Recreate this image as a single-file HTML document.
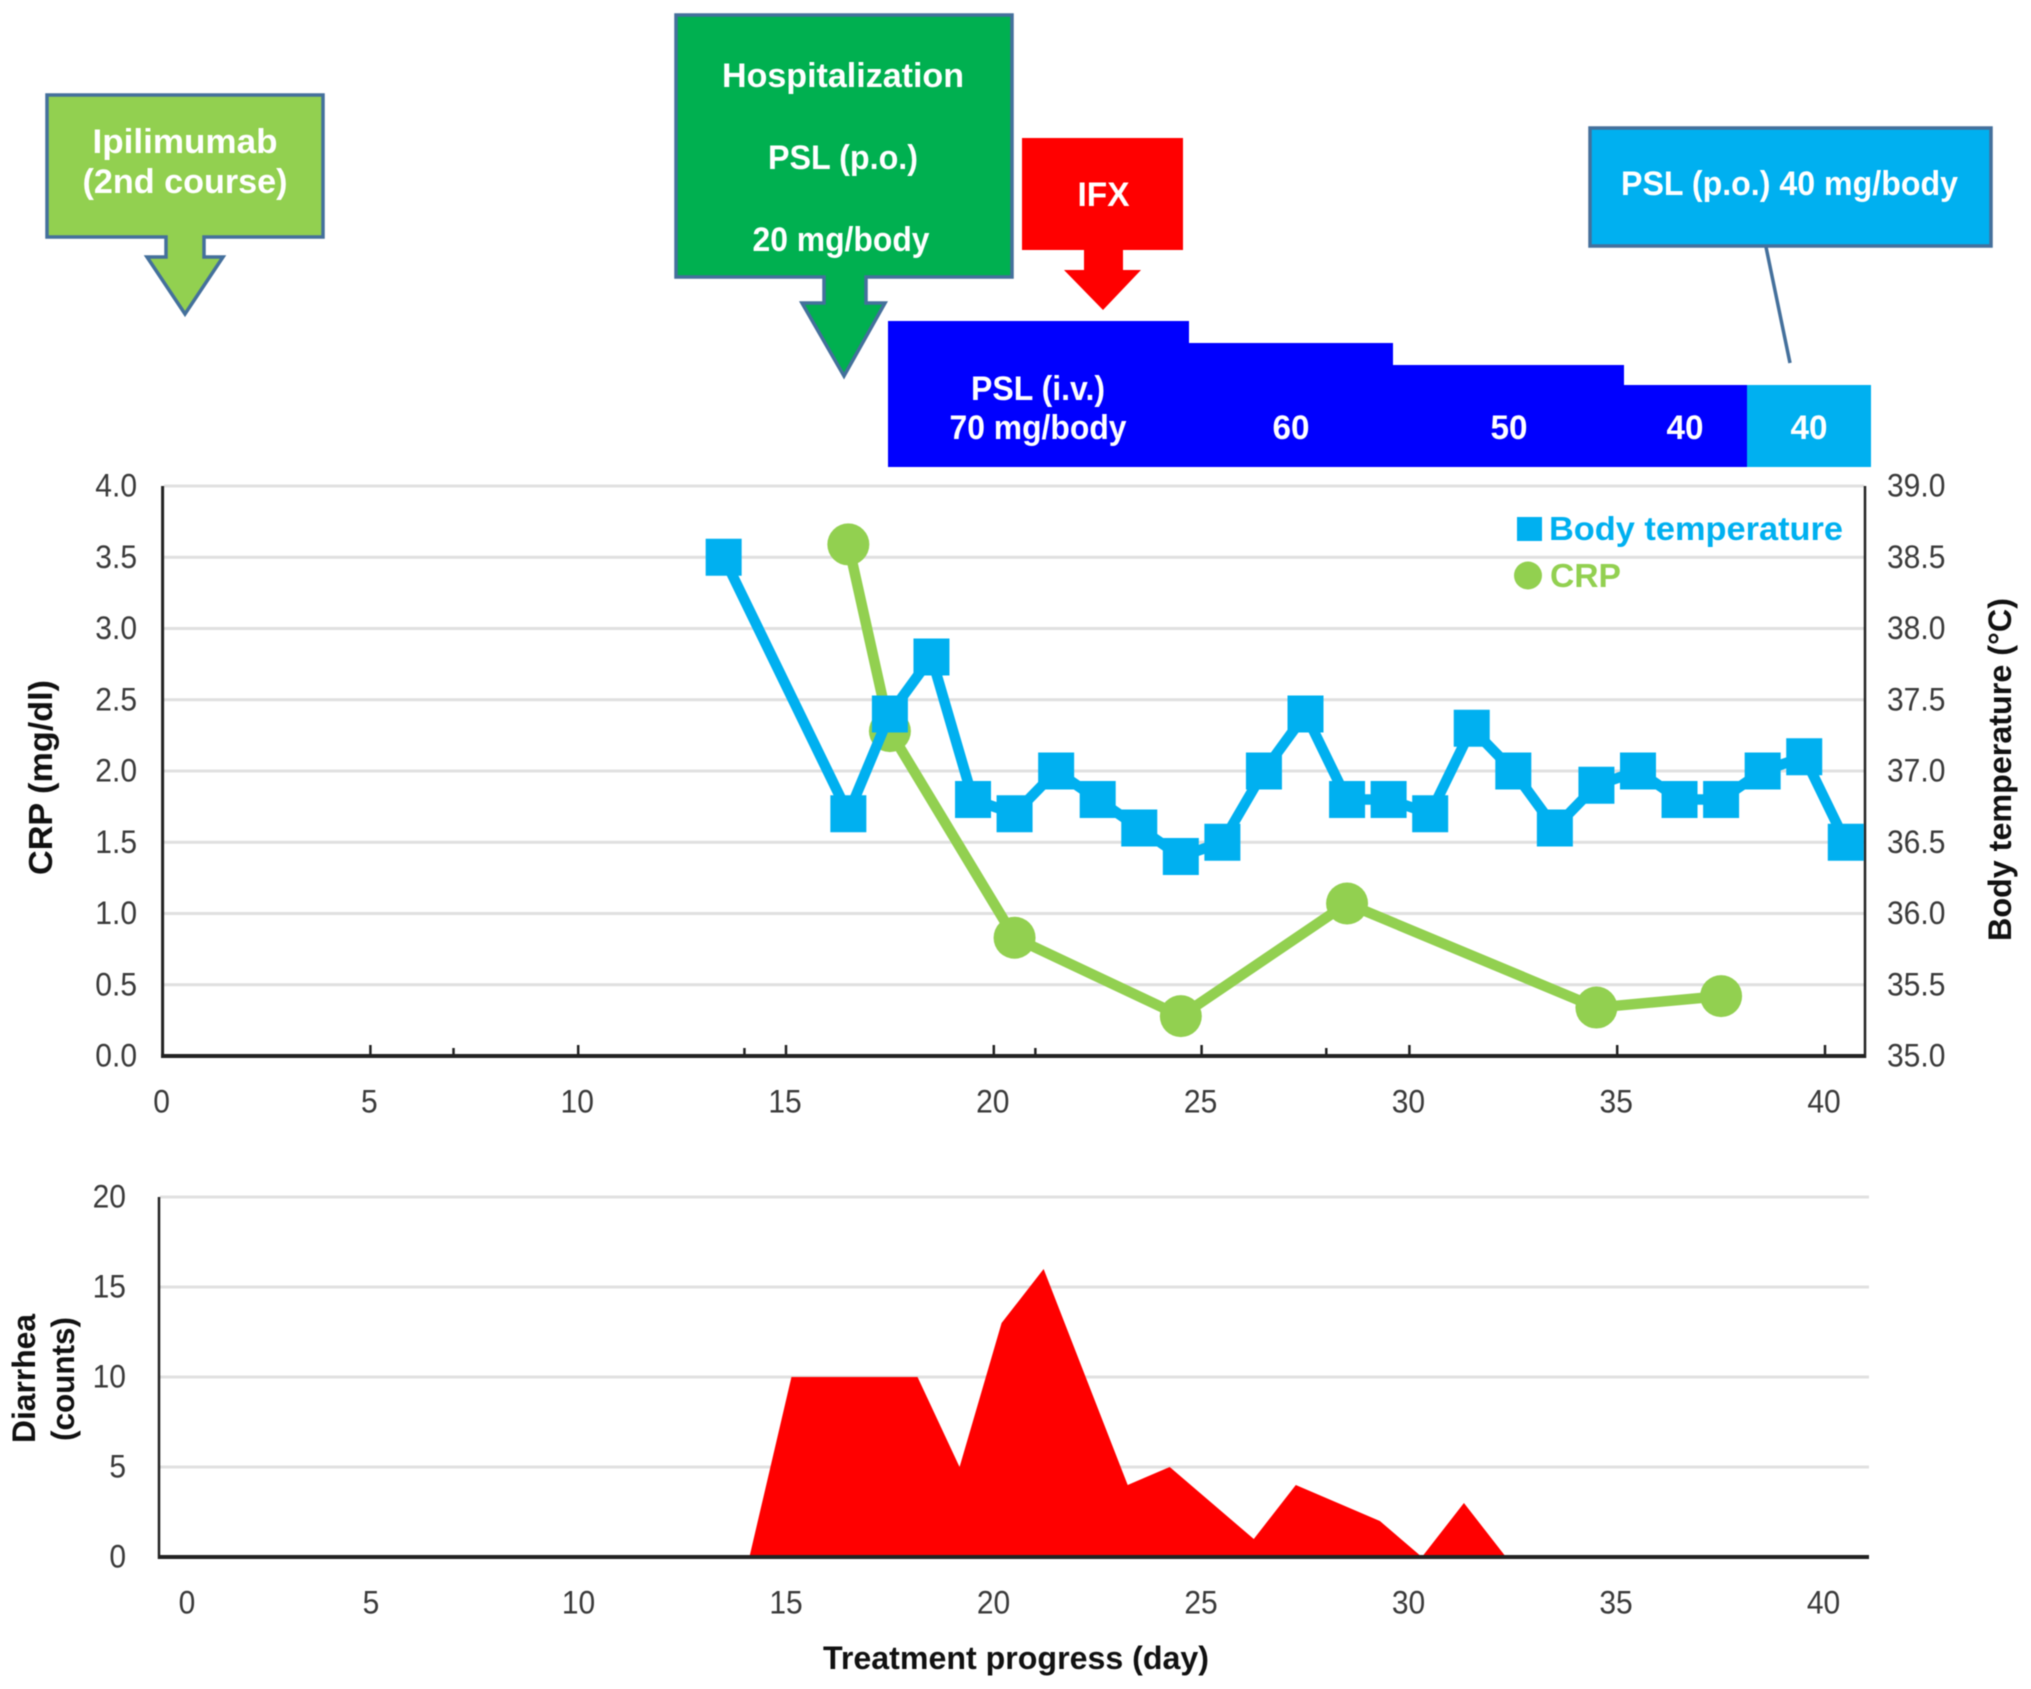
<!DOCTYPE html>
<html lang="en">
<head>
<meta charset="utf-8">
<title>Treatment progress chart</title>
<style>
  html, body { margin: 0; padding: 0; background: #fff; }
  svg { display: block; font-family: "Liberation Sans", Arial, sans-serif; filter: blur(0.6px); }
  .box-text { fill: #fff; font-weight: bold; font-size: 34px; text-anchor: middle; }
</style>
</head>
<body>
<svg id="chart" xmlns="http://www.w3.org/2000/svg" width="2031" height="1689" viewBox="0 0 2031 1689">
  <rect x="0" y="0" width="2031" height="1689" fill="#fff"/>

  <g>
    <path d="M47 95H323V237H204V257H223L185 314L147 257H166V237H47Z" fill="#92d050" stroke="#44709c" stroke-width="3.5"/>
    <text class="box-text" x="185" y="153" textLength="185" lengthAdjust="spacingAndGlyphs">Ipilimumab</text>
    <text class="box-text" x="185" y="193" textLength="205" lengthAdjust="spacingAndGlyphs">(2nd course)</text>
  </g>

  <g>
    <path d="M676 15H1012V277H866V303H885L844 376L802 303H824V277H676Z" fill="#00b050" stroke="#44709c" stroke-width="3.5"/>
    <text class="box-text" x="843" y="87" textLength="242" lengthAdjust="spacingAndGlyphs">Hospitalization</text>
    <text class="box-text" x="843" y="169" textLength="150" lengthAdjust="spacingAndGlyphs">PSL (p.o.)</text>
    <text class="box-text" x="841" y="251" textLength="177" lengthAdjust="spacingAndGlyphs">20 mg/body</text>
  </g>

  <g>
    <path d="M1022 138H1183V250H1123V270H1141L1103 310L1064 270H1084V250H1022Z" fill="#ff0000"/>
    <text class="box-text" x="1103.5" y="206" textLength="52" lengthAdjust="spacingAndGlyphs">IFX</text>
  </g>

  <g>
    <rect x="888" y="321" width="301" height="146" fill="#0000ff"/>
    <rect x="1189" y="343" width="204" height="124" fill="#0000ff"/>
    <rect x="1392" y="365" width="232" height="102" fill="#0000ff"/>
    <rect x="1624" y="385" width="123" height="82" fill="#0000ff"/>
    <rect x="1747" y="385" width="124" height="82" fill="#00b0f0"/>
    <text class="box-text" x="1038" y="400" textLength="134" lengthAdjust="spacingAndGlyphs">PSL (i.v.)</text>
    <text class="box-text" x="1038" y="439" textLength="177" lengthAdjust="spacingAndGlyphs">70 mg/body</text>
    <text class="box-text" x="1291" y="439" textLength="37" lengthAdjust="spacingAndGlyphs">60</text>
    <text class="box-text" x="1509" y="439" textLength="37" lengthAdjust="spacingAndGlyphs">50</text>
    <text class="box-text" x="1685" y="439" textLength="37" lengthAdjust="spacingAndGlyphs">40</text>
    <text class="box-text" x="1809" y="439" textLength="37" lengthAdjust="spacingAndGlyphs">40</text>
  </g>

  <g>
    <line x1="1766" y1="247" x2="1790" y2="363" stroke="#44709c" stroke-width="3.5"/>
    <rect x="1590" y="128" width="401" height="118" fill="#00b0f0" stroke="#44709c" stroke-width="3.5"/>
    <text class="box-text" x="1789.5" y="195" textLength="337" lengthAdjust="spacingAndGlyphs">PSL (p.o.) 40 mg/body</text>
  </g>

  <g id="plot-top"></g>
  <g id="plot-bottom"></g>

  <g>
    <rect x="1517" y="517" width="25" height="24" fill="#00b0f0"/>
    <text x="1549" y="540" font-size="33" font-weight="bold" fill="#00b0f0" textLength="294" lengthAdjust="spacingAndGlyphs">Body temperature</text>
    <circle cx="1528" cy="575.5" r="14" fill="#92d050"/>
    <text x="1550" y="587" font-size="33" font-weight="bold" fill="#92d050" textLength="71" lengthAdjust="spacingAndGlyphs">CRP</text>
  </g>

  <text transform="translate(52 875) rotate(-90)" font-size="33" font-weight="bold" fill="#111" textLength="195" lengthAdjust="spacingAndGlyphs">CRP (mg/dl)</text>
  <text transform="translate(2011 941) rotate(-90)" font-size="32" font-weight="bold" fill="#111" textLength="343" lengthAdjust="spacingAndGlyphs">Body temperature (°C)</text>
  <text transform="translate(35 1443) rotate(-90)" font-size="32" font-weight="bold" fill="#111" textLength="129" lengthAdjust="spacingAndGlyphs">Diarrhea</text>
  <text transform="translate(74 1441) rotate(-90)" font-size="32" font-weight="bold" fill="#111" textLength="124" lengthAdjust="spacingAndGlyphs">(counts)</text>
  <text x="823" y="1669" font-size="32" font-weight="bold" fill="#111" textLength="386" lengthAdjust="spacingAndGlyphs">Treatment progress (day)</text>
</svg>

<script>
// ---- Chart data ----
const crpTickLabels = ['0.0', '0.5', '1.0', '1.5', '2.0', '2.5', '3.0', '3.5', '4.0'];
const tempTickLabels = ['35.0', '35.5', '36.0', '36.5', '37.0', '37.5', '38.0', '38.5', '39.0'];
const dayTickLabels = [0, 5, 10, 15, 20, 25, 30, 35, 40];
const minorDayTicks = [7, 14, 21, 28];
const countTickLabels = [0, 5, 10, 15, 20];

const tempDays = [13.5, 16.5, 17.5, 18.5, 19.5, 20.5, 21.5, 22.5, 23.5, 24.5, 25.5, 26.5, 27.5, 28.5, 29.5, 30.5, 31.5, 32.5, 33.5, 34.5, 35.5, 36.5, 37.5, 38.5, 39.5, 40.5];
const tempValues = [38.5, 36.7, 37.4, 37.8, 36.8, 36.7, 37.0, 36.8, 36.6, 36.4, 36.5, 37.0, 37.4, 36.8, 36.8, 36.7, 37.3, 37.0, 36.6, 36.9, 37.0, 36.8, 36.8, 37.0, 37.1, 36.5];

const crpDays = [16.5, 17.5, 20.5, 24.5, 28.5, 34.5, 37.5];
const crpValues = [3.59, 2.28, 0.83, 0.28, 1.07, 0.34, 0.42];

const diarrheaDays = [13, 14, 15, 16, 17, 18, 19, 20, 21, 22, 23, 24, 25, 26, 27, 28, 29, 30, 31, 32, 33];
const diarrheaCounts = [0, 0, 10, 10, 10, 10, 5, 13, 16, 10, 4, 5, 3, 1, 4, 3, 2, 0, 3, 0, 0];

// ---- Axis functions ----
const xTop = d => 162.6 + d * 41.56;
const yCrp = v => 1056 - v * 142.5;
const yTemp = v => 1056 - (v - 35) * 142.5;
const xArea = d => 161 + d * 42.03;
const xBottomLabel = d => d === 0 ? 187 : 163.5 + d * 41.5;
const yCount = v => 1557 - v * 18;

const NS = 'http://www.w3.org/2000/svg';
const LABEL_COLOR = '#3a3a3a';
const GRID_COLOR = '#e0e0e0';
const topPlot = document.getElementById('plot-top');
const bottomPlot = document.getElementById('plot-bottom');

function make(parent, tag, attrs, text) {
  const node = document.createElementNS(NS, tag);
  for (const key in attrs) node.setAttribute(key, attrs[key]);
  if (text !== undefined) node.textContent = text;
  parent.appendChild(node);
  return node;
}

// Tick labels are taller and narrower than the stock font: 32px glyphs squeezed to a 30px advance.
function labelAttrs(x, y, anchor, str) {
  let width = 0;
  for (const c of str) width += (c === '.' ? 0.278 : 0.556) * 30;
  return { x: x, y: y, 'font-size': 32, fill: LABEL_COLOR, 'text-anchor': anchor, textLength: width, lengthAdjust: 'spacingAndGlyphs' };
}

// ---- Top plot: gridlines ----
crpTickLabels.forEach(function (label) {
  const v = parseFloat(label);
  if (v === 0) return;
  const el = make(topPlot, 'line', { x1: 164, x2: 1864, y1: yCrp(v), y2: yCrp(v), stroke: GRID_COLOR, 'stroke-width': 3 });
  
  
});

// ---- Top plot: axes ----
{
  let el = make(topPlot, 'line', { x1: 162.6, x2: 162.6, y1: yCrp(4), y2: 1058, stroke: '#222', 'stroke-width': 3 });
  
  
  el = make(topPlot, 'line', { x1: 1865, x2: 1865, y1: yCrp(4), y2: 1058, stroke: '#222', 'stroke-width': 2.5 });
  
  
  el = make(topPlot, 'line', { x1: 161, x2: 1866, y1: 1056, y2: 1056, stroke: '#222', 'stroke-width': 4 });
  
  
}

dayTickLabels.forEach(function (d) {
  if (d !== 0) {
    const tick = make(topPlot, 'line', { x1: xTop(d), x2: xTop(d), y1: 1045, y2: 1056, stroke: '#222', 'stroke-width': 2.5 });
    
    
  }
  const label = make(topPlot, 'text', labelAttrs(xTop(d) - 1, 1112.5, 'middle', String(d)), String(d));
  
  
});

minorDayTicks.forEach(function (d) {
  const tick = make(topPlot, 'line', { x1: xTop(d), x2: xTop(d), y1: 1048, y2: 1056, stroke: '#222', 'stroke-width': 2.5 });
  
  
});

crpTickLabels.forEach(function (label) {
  const el = make(topPlot, 'text', labelAttrs(137, yCrp(parseFloat(label)) + 10.5, 'end', label), label);
  
  
});

tempTickLabels.forEach(function (label) {
  const el = make(topPlot, 'text', labelAttrs(1887, yTemp(parseFloat(label)) + 10.5, 'start', label), label);
  
  
});

// ---- Top plot: CRP series ----
{
  const pts = crpDays.map((d, i) => xTop(d) + ',' + yCrp(crpValues[i])).join(' ');
  const line = make(topPlot, 'polyline', { points: pts, fill: 'none', stroke: '#92d050', 'stroke-width': 10.5, 'stroke-linejoin': 'round' });
  
  
}
crpDays.forEach(function (d, i) {
  const dot = make(topPlot, 'circle', { cx: xTop(d), cy: yCrp(crpValues[i]), r: 21, fill: '#92d050' });
  
  
});

// ---- Top plot: body temperature series ----
{
  const pts = tempDays.map((d, i) => xTop(d) + ',' + yTemp(tempValues[i])).join(' ');
  const line = make(topPlot, 'polyline', { points: pts, fill: 'none', stroke: '#00b0f0', 'stroke-width': 10.5, 'stroke-linejoin': 'round' });
  
  
}
tempDays.forEach(function (d, i) {
  const sq = make(topPlot, 'rect', { x: xTop(d) - 18, y: yTemp(tempValues[i]) - 18.5, width: 36, height: 37, fill: '#00b0f0' });
  
  
});

// ---- Bottom plot ----
countTickLabels.forEach(function (v) {
  if (v !== 0) {
    const grid = make(bottomPlot, 'line', { x1: 160, x2: 1869, y1: yCount(v), y2: yCount(v), stroke: GRID_COLOR, 'stroke-width': 3 });
    
    
  }
  const label = make(bottomPlot, 'text', labelAttrs(126, yCount(v) + 10.5, 'end', String(v)), String(v));
  
  
});

{
  const first = xArea(diarrheaDays[0]);
  const last = xArea(diarrheaDays[diarrheaDays.length - 1]);
  const pts = first + ',' + yCount(0) + ' ' +
    diarrheaDays.map((d, i) => xArea(d) + ',' + yCount(diarrheaCounts[i])).join(' ') +
    ' ' + last + ',' + yCount(0);
  const area = make(bottomPlot, 'polygon', { points: pts, fill: '#ff0000' });
  
  

  let el = make(bottomPlot, 'line', { x1: 159, x2: 159, y1: yCount(20), y2: 1559, stroke: '#222', 'stroke-width': 2.5 });
  
  
  el = make(bottomPlot, 'line', { x1: 158, x2: 1869, y1: 1557, y2: 1557, stroke: '#222', 'stroke-width': 4 });
  
  
}

dayTickLabels.forEach(function (d) {
  const label = make(bottomPlot, 'text', labelAttrs(xBottomLabel(d), 1613.5, 'middle', String(d)), String(d));
  
  
});
</script>
</body>
</html>
